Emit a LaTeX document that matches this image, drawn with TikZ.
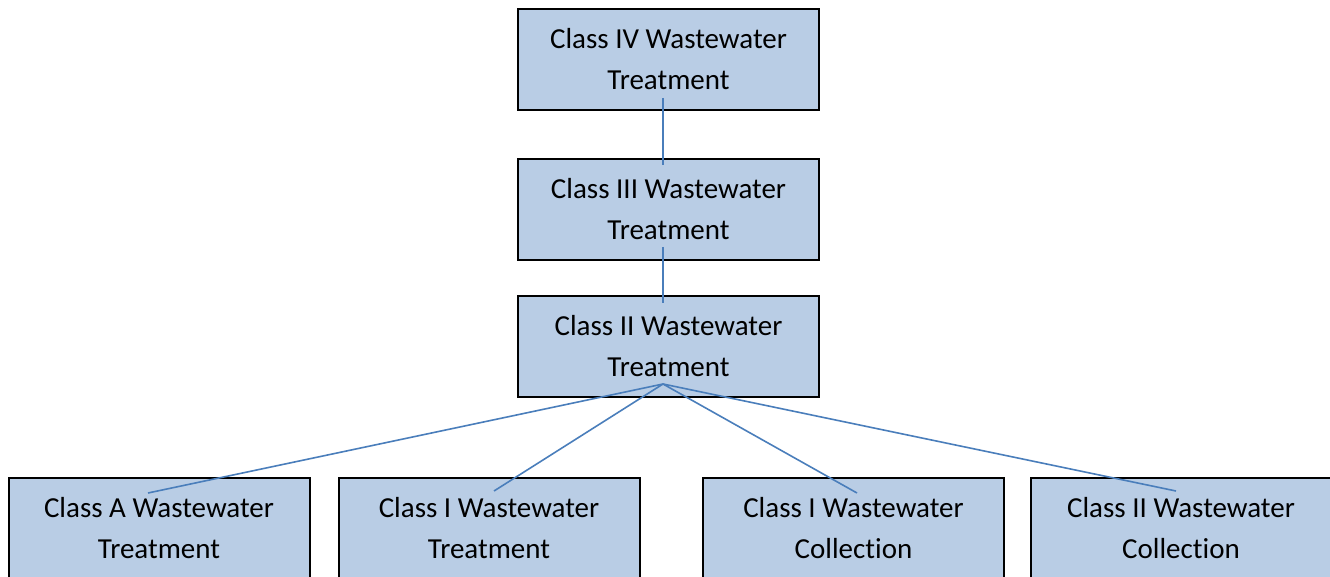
\documentclass[tikz,border=0pt]{standalone}
\usepackage{fontspec}
\setmainfont{Carlito}[Ligatures={NoCommon}]
\usetikzlibrary{calc}
\definecolor{boxfill}{HTML}{B9CDE5}
\definecolor{linkblue}{HTML}{4A7EBB}
\tikzset{
  orgbox/.style={draw=black, line width=2pt, fill=boxfill, minimum width=301pt, minimum height=101pt,
    inner sep=0pt, align=center, font=\fontsize{29}{41}\selectfont},
  link/.style={draw=linkblue, line width=1.6pt}
}
\begin{document}
\begin{tikzpicture}[x=1pt,y=-1pt]
\useasboundingbox (0,0) rectangle (1330,577);
\node[orgbox] (n4) at (668.5,59.5) {Class IV Wastewater\\Treatment};
\node[orgbox] (n3) at (668.5,209.5) {Class III Wastewater\\Treatment};
\node[orgbox] (n2) at (668.5,346.5) {Class II Wastewater\\Treatment};
\node[orgbox] (ca) at (159,528.5) {Class A Wastewater\\Treatment};
\node[orgbox] (ci) at (489,528.5) {Class I Wastewater\\Treatment};
\node[orgbox] (cic) at (853.5,528.5) {Class I Wastewater\\Collection};
\node[orgbox] (ciic) at (1181,528.5) {Class II Wastewater\\Collection};
% connector ends
\coordinate (p4) at ($(n4.center)+(-5.5,38.5)$);
\coordinate (q3) at ($(n3.center)+(-5.5,-44.5)$);
\coordinate (p3) at ($(n3.center)+(-5.5,37.5)$);
\coordinate (q2) at ($(n2.center)+(-5.5,-43.5)$);
\coordinate (hub) at ($(n2.center)+(-5.5,37.5)$);
\coordinate (ea) at ($(ca.center)+(-11,-35.5)$);
\coordinate (ei) at ($(ci.center)+(5,-37.5)$);
\coordinate (eic) at ($(cic.center)+(3.5,-35.5)$);
\coordinate (eiic) at ($(ciic.center)+(-5,-37.5)$);
\draw[link] (p4) -- (q3);
\draw[link] (p3) -- (q2);
\draw[link] (hub) -- (ea);
\draw[link] (hub) -- (ei);
\draw[link] (hub) -- (eic);
\draw[link] (hub) -- (eiic);
\end{tikzpicture}
\end{document}
